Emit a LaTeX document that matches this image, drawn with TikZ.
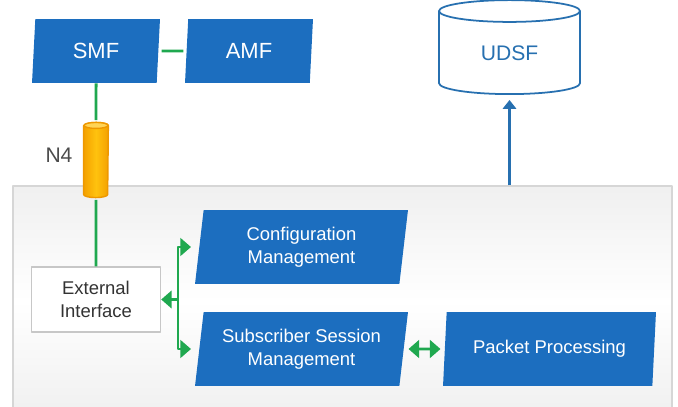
\documentclass[tikz,border=0pt]{standalone}
\usepackage{fontspec}
\setmainfont{Liberation Sans}
\usetikzlibrary{shapes.geometric,arrows.meta}
\definecolor{nfblue}{HTML}{1C6EBF}
\definecolor{dbblue}{HTML}{2770B0}
\definecolor{lnkgreen}{HTML}{1FA84F}
\definecolor{pipeor}{HTML}{F4A100}
\definecolor{pipemid}{HTML}{FFC20E}
\definecolor{pipeedge}{HTML}{EE9800}
\definecolor{txtgray}{HTML}{333333}
\tikzset{
  nf/.style={trapezium,trapezium left angle=78,trapezium right angle=102,
    trapezium stretches body,fill=nfblue,text=white,align=center,inner sep=0pt,
    minimum width=4.26cm,minimum height=1.48cm,font=\fontsize{10.5}{13.3}\selectfont},
  topnf/.style={nf,minimum width=2.56cm,minimum height=1.28cm,font=\fontsize{12.5}{15}\selectfont},
  link/.style={draw=lnkgreen,line width=1.7pt},
  pipe/.style={draw=pipeedge,line width=0.8pt,left color=pipeor,right color=pipeor,middle color=pipemid}
}
\begin{document}
\begin{tikzpicture}[x=0.02cm,y=0.02cm,line join=round,line cap=butt,
  >={Triangle[length=6pt,width=10pt]}]
\useasboundingbox (0,0) rectangle (678,406);
% UPF box
\node[draw=black!16,line width=0.8pt,top color=black!6,bottom color=black!6,middle color=white,
  minimum width=13.18cm,minimum height=4.6cm,inner sep=0pt] (upf) at (342.5,105) {};
% control plane
\node[topnf] (smf) at (96,355) {SMF};
\node[topnf] (amf) at (249,355) {AMF};
\node[minimum width=0.48cm,minimum height=1.58cm,inner sep=0pt] (n4) at (96,246) {};
\node[text=black!70,font=\fontsize{12}{14}\selectfont] (n4lbl) at (59,251) {N4};
\node[cylinder,shape border rotate=90,aspect=0.38,draw=dbblue,line width=1pt,fill=white,
  text=dbblue,minimum width=2.82cm,minimum height=1.88cm,inner sep=0pt,
  font=\fontsize{12}{14}\selectfont] (udsf) at (509.5,353) {UDSF};
% user plane functions
\node[draw=black!22,line width=0.8pt,fill=white,text=txtgray,align=center,
  minimum width=2.58cm,minimum height=1.3cm,inner sep=0pt,
  font=\fontsize{10.5}{13.3}\selectfont] (ext) at (96,106.5) {External\\Interface};
\node[nf] (cfg) at (301.5,159) {Configuration\\Management};
\node[nf] (ssm) at (301.5,57) {Subscriber Session\\Management};
\node[nf] (pkt) at (549.5,57) {Packet Processing};
\coordinate (fork) at (178,106.5);
% links
\draw[link,shorten <=0.06cm,shorten >=0.06cm] (smf) -- (amf);
\draw[link] (smf) -- (n4) -- (ext);
% N4 pipe
\path[pipe] ([yshift=-3]n4.north west) -- ([yshift=3]n4.south west)
  arc[start angle=180,end angle=360,x radius=12,y radius=3]
  -- ([yshift=-3]n4.north east) arc[start angle=0,end angle=180,x radius=12,y radius=3] -- cycle;
\draw[draw=pipeedge,line width=0.8pt,fill=pipemid!70!white] ([yshift=-3]n4.north) ellipse[x radius=12,y radius=3];
\draw[link,->] (fork) -- (ext);
\draw[link,->,shorten >=0.16cm] (fork) |- (cfg);
\draw[link,->,shorten >=0.16cm] (fork) |- (ssm);
\draw[link,<->,shorten <=0.09cm,shorten >=0.08cm] (ssm) -- (pkt);
\draw[draw=dbblue,line width=1.4pt,-{Triangle[length=5pt,width=7.5pt]},shorten >=0.1cm]
  (upf.north -| udsf) -- (udsf);
\end{tikzpicture}
\end{document}
